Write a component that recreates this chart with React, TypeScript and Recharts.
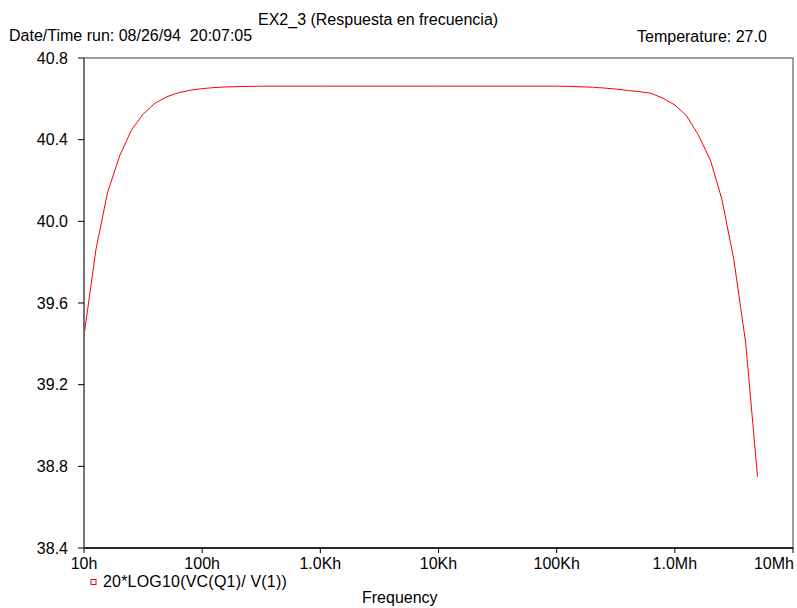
import React from "react";
import { LineChart, Line, XAxis, YAxis, ReferenceArea, Legend } from "recharts";

const FONT = "'Liberation Sans', Arial, sans-serif";

// sample frequencies (Hz) and gain (dB)
const freqs = [
  10, 12.6, 15.8, 20, 25.1, 31.6, 39.8, 50.1, 63.1, 79.4,
  100, 126, 158, 200, 251, 316, 1000, 10000,
  100000, 126000, 158000, 200000, 251000, 316000, 398000, 501000, 631000, 794000,
  1000000, 1260000, 1580000, 2000000, 2510000, 3160000, 3980000, 5010000,
];
const gain = [
  39.44, 39.86, 40.14, 40.32, 40.445, 40.525, 40.578, 40.61, 40.63, 40.642,
  40.65, 40.655, 40.658, 40.66, 40.661, 40.662, 40.662, 40.662,
  40.662, 40.661, 40.659, 40.657, 40.653, 40.648, 40.641, 40.635, 40.627, 40.603,
  40.57, 40.516, 40.423, 40.3, 40.105, 39.811, 39.403, 38.75,
];

const xTicks = [10, 100, 1000, 10000, 100000, 1000000, 10000000];
const xTickLabels = ["10h", "100h", "1.0Kh", "10Kh", "100Kh", "1.0Mh", "10Mh"];
const yTicks = [38.4, 38.8, 39.2, 39.6, 40.0, 40.4, 40.8];

const seriesName = "20*LOG10(VC(Q1)/ V(1))";

const data = freqs.map((f, i) => ({ freq: f, db: gain[i] }));

const XTick = (props: any) => {
  const { x, y, payload, index } = props;
  const last = index === xTicks.length - 1;
  return (
    <text
      x={last ? x + 1 : x}
      y={y}
      dy="0.71em"
      textAnchor={last ? "end" : "middle"}
      fill="#000"
      fontSize={16}
      fontFamily={FONT}
    >
      {xTickLabels[xTicks.indexOf(payload.value)]}
    </text>
  );
};

const LegendBox = () => (
  <svg width={220} height={20} style={{ display: "block" }}>
    <rect x={3} y={8.5} width={5} height={5} fill="none" stroke="#ff0000" strokeWidth={1} />
    <text x={15} y={16} fontSize={16} fontFamily={FONT} fill="#000" letterSpacing={0.2}>
      {seriesName}
    </text>
  </svg>
);

export default function App() {
  return (
    <div style={{ position: "absolute", left: 0, top: 0, width: 797, height: 608, background: "#fff" }}>
      <LineChart
        width={797}
        height={608}
        data={data}
        margin={{ top: 58, right: 4, bottom: 10, left: 24 }}
      >
        <ReferenceArea
          x1={10}
          x2={10000000}
          y1={38.4}
          y2={40.8}
          fill="none"
          stroke="#808080"
          strokeWidth={1.5}
          ifOverflow="visible"
        />
        <XAxis
          dataKey="freq"
          type="number"
          scale="log"
          domain={[10, 10000000]}
          ticks={xTicks}
          allowDataOverflow
          height={30}
          tickSize={5}
          tickMargin={5}
          tick={<XTick />}
          axisLine={{ stroke: "#000", strokeWidth: 1.5 }}
          tickLine={{ stroke: "#000" }}
          interval={0}
        />
        <YAxis
          type="number"
          domain={[38.4, 40.8]}
          ticks={yTicks}
          width={60}
          tickSize={6}
          tickMargin={10}
          tickFormatter={(v: number) => v.toFixed(1)}
          tick={{ fill: "#000", fontSize: 16, fontFamily: FONT }}
          axisLine={{ stroke: "#666", strokeWidth: 1.5 }}
          tickLine={{ stroke: "#000" }}
          interval={0}
        />
        <Legend
          content={<LegendBox />}
          wrapperStyle={{ position: "absolute", left: 88, top: 571, width: 220, height: 20 }}
        />
        <Line
          type="linear"
          dataKey="db"
          name={seriesName}
          stroke="#ff0000"
          strokeWidth={1}
          dot={false}
          isAnimationActive={false}
        />
      </LineChart>
      <svg
        width={797}
        height={608}
        style={{ position: "absolute", left: 0, top: 0, pointerEvents: "none" }}
        fontFamily={FONT}
        fontSize={16}
      >
        <text x={258} y={25} fill="#000">EX2_3 (Respuesta en frecuencia)</text>
        <text x={9} y={40.5} fill="#000">Date/Time run: 08/26/94{"\u00a0\u00a0"}20:07:05</text>
        <text x={637} y={41.5} fill="#000">Temperature: 27.0</text>
        <text x={362} y={603} fill="#000">Frequency</text>
      </svg>
    </div>
  );
}
